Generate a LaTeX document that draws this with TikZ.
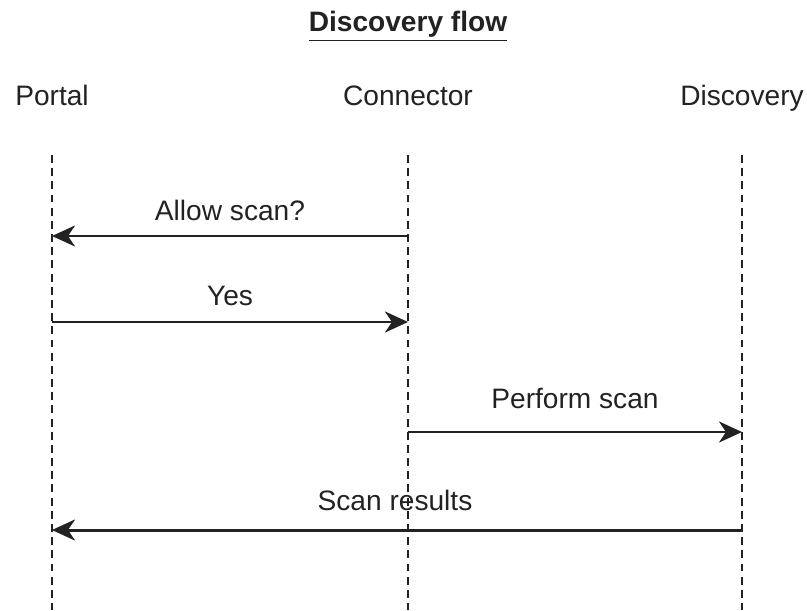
\documentclass[tikz,border=0pt]{standalone}
\usepackage{fontspec}
\setmainfont{Liberation Sans}
\usepackage{tikz}
\usetikzlibrary{arrows.meta, positioning, calc}
\definecolor{inkgray}{RGB}{34, 34, 34}

\begin{document}
\begin{tikzpicture}[
    actor/.style={font=\fontsize{16}{19}\selectfont, text=inkgray, anchor=base},
    lifeline/.style={line width=1.1pt, dash pattern=on 4.5pt off 3pt, inkgray},
    msg/.style={-{Stealth[length=4.6mm, width=4.2mm, inset=1.4mm]}, line width=1.7pt, inkgray},
    msglabel/.style={font=\fontsize{16}{19}\selectfont, text=inkgray, above, midway, inner sep=0pt}
]
    \useasboundingbox (0,0) rectangle (16.14,12.2);

    % Title
    \node[font=\fontsize{16}{19}\selectfont\bfseries, text=inkgray, anchor=base] (title) at (8.16, 11.56) {\underline{Discovery flow}};

    % Actors
    \node[actor] (portal) at (1.04, 10.08) {Portal};
    \node[actor] (connector) at (8.16, 10.08) {Connector};
    \node[actor] (discovery) at (14.84, 10.08) {Discovery};

    % Lifelines
    \draw[lifeline] (portal |- 0,9.1) -- (portal |- 0,0);
    \draw[lifeline] (connector |- 0,9.1) -- (connector |- 0,0);
    \draw[lifeline] (discovery |- 0,9.1) -- (discovery |- 0,0);

    % Messages
    \draw[msg] (connector |- 0,7.48) -- node[msglabel, yshift=0.28cm]{Allow scan?} (portal |- 0,7.48);
    \draw[msg] (portal |- 0,5.76) -- node[msglabel, yshift=0.3cm]{Yes} (connector |- 0,5.76);
    \draw[msg] (connector |- 0,3.56) -- node[msglabel, yshift=0.44cm]{Perform scan} (discovery |- 0,3.56);
    \draw[msg] (discovery |- 0,1.6) -- node[msglabel, yshift=0.36cm, xshift=-0.04cm]{Scan results} (portal |- 0,1.6);
\end{tikzpicture}
\end{document}
